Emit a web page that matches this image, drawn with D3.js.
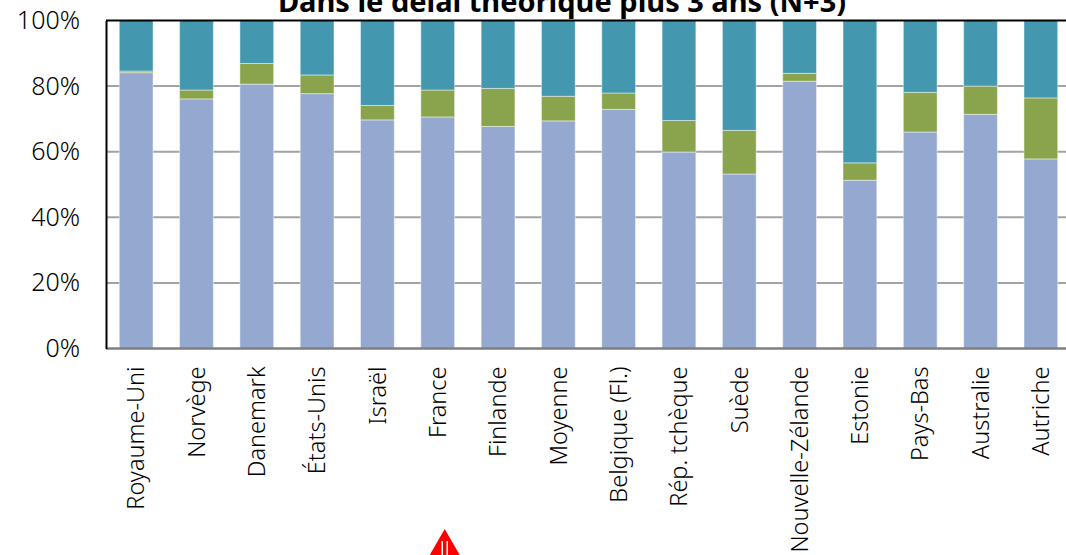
<!DOCTYPE html>
<html>
<head>
<meta charset="utf-8">
<script src="https://cdnjs.cloudflare.com/ajax/libs/d3/7.8.5/d3.min.js"></script>
<style>
  body { margin: 0; background: #fff; }
  svg { display: block; font-family: "Noto Sans", sans-serif; }
</style>
</head>
<body>
<div id="viz"></div>
<script>
/* stacked 100% bars */

var countries = ['Royaume-Uni', 'Norvège', 'Danemark', 'États-Unis', 'Israël', 'France',
                 'Finlande', 'Moyenne', 'Belgique (Fl.)', 'Rép. tchèque', 'Suède',
                 'Nouvelle-Zélande', 'Estonie', 'Pays-Bas', 'Australie', 'Autriche'];
var inTime   = [84.1, 76.1, 80.6, 77.7, 69.7, 70.6, 67.7, 69.4, 72.9, 59.9, 53.2, 81.5, 51.3, 66.0, 71.4, 57.8];
var plus3    = [0.5, 2.7, 6.3, 5.7, 4.4, 8.2, 11.6, 7.5, 5.0, 9.6, 13.3, 2.4, 5.3, 12.1, 8.6, 18.6];
var yTicks   = [0, 20, 40, 60, 80, 100];
var title    = 'Dans le délai théorique plus 3 ans (N+3)';
var markedCountry = 'France';

var width = 1066, height = 555,
    margin = { top: 20.5, left: 106, bottom: 206.5 };

var svg = d3.select('#viz').append('svg')
    .attr('width', width)
    .attr('height', height);

var xScale = d3.scaleBand()
    .domain(countries)
    .range([margin.left, 1071])
    .paddingInner(0.44)
    .paddingOuter(0.22);

var yScale = d3.scaleLinear()
    .domain([0, 100])
    .range([height - margin.bottom, margin.top]);

// gridlines
svg.append('g')
  .selectAll('line').data(yTicks.slice(1, -1))
  .enter().append('line')
    .attr('x1', margin.left).attr('x2', width)
    .attr('y1', function(d) { return yScale(d); })
    .attr('y2', function(d) { return yScale(d); })
    .attr('stroke', '#a3a3a3')
    .attr('stroke-width', 2);

// stack: in time, +3 years, rest
var rows = countries.map(function(c, i) {
  return { country: c, a: inTime[i], b: plus3[i], c: 100 - inTime[i] - plus3[i] };
});
var series = d3.stack().keys(['a', 'b', 'c'])(rows);
var colors = { a: '#95a9d0', b: '#89a44c', c: '#4398b0' };

svg.append('g')
  .selectAll('g').data(series)
  .enter().append('g')
    .attr('fill', function(d) { return colors[d.key]; })
  .selectAll('rect').data(function(d) { return d; })
  .enter().append('rect')
    .attr('x', function(d) { return xScale(d.data.country); })
    .attr('width', xScale.bandwidth())
    .attr('y', function(d) { return yScale(d[1]); })
    .attr('height', function(d) { return yScale(d[0]) - yScale(d[1]); })
    .attr('stroke', '#ffffff')
    .attr('stroke-opacity', 0.45)
    .attr('stroke-width', 1);

// top frame line + axes
svg.append('line')
    .attr('x1', margin.left).attr('x2', width)
    .attr('y1', yScale(100)).attr('y2', yScale(100))
    .attr('stroke', '#000').attr('stroke-width', 2);

svg.append('line')
    .attr('x1', margin.left).attr('x2', width)
    .attr('y1', yScale(0)).attr('y2', yScale(0))
    .attr('stroke', '#7f7f7f').attr('stroke-width', 2.5);

var yAxis = d3.axisLeft(yScale)
    .tickValues(yTicks)
    .tickSize(0)
    .tickPadding(26)
    .tickFormat(function(d) { return d + '%'; });

var yGuide = svg.append('g')
    .attr('transform', 'translate(' + margin.left + ',0)')
    .call(yAxis);
yGuide.select('.domain').attr('stroke', '#000').attr('stroke-width', 2);
yGuide.selectAll('text')
    .attr('font-size', '25px')
    .attr('fill', '#000')
    .attr('font-weight', 300)
    .attr('font-family', '"Noto Sans", sans-serif');

var xAxis = d3.axisBottom(xScale).tickSize(0).tickPadding(0);
var xGuide = svg.append('g')
    .attr('transform', 'translate(0,' + yScale(0) + ')')
    .call(xAxis);
xGuide.select('.domain').remove();
xGuide.selectAll('text')
    .attr('transform', 'rotate(-90)')
    .attr('x', -18)
    .attr('y', 0)
    .attr('dy', '0.35em')
    .attr('text-anchor', 'end')
    .attr('font-size', '23.5px')
    .attr('font-weight', 300)
    .attr('fill', '#000')
    .attr('font-family', '"Noto Sans", sans-serif');

// title, cut at the top like the source
svg.append('text')
    .attr('x', 562)
    .attr('y', 12)
    .attr('text-anchor', 'middle')
    .attr('font-size', '29px')
    .attr('font-weight', 'bold')
    .text(title);

// red arrow under France
var ax = xScale(markedCountry) + xScale.bandwidth() / 2 + 7;
svg.append('path')
    .attr('d', 'M' + ax + ',529 L' + (ax + 15) + ',555 L' + (ax - 15) + ',555 Z')
    .attr('fill', '#ff0000');
svg.append('path')
    .attr('d', 'M' + (ax - 2.5) + ',541 V555 M' + (ax + 2.5) + ',541 V555')
    .attr('stroke', '#fff')
    .attr('stroke-width', 1.5);
</script>
</body>
</html>
